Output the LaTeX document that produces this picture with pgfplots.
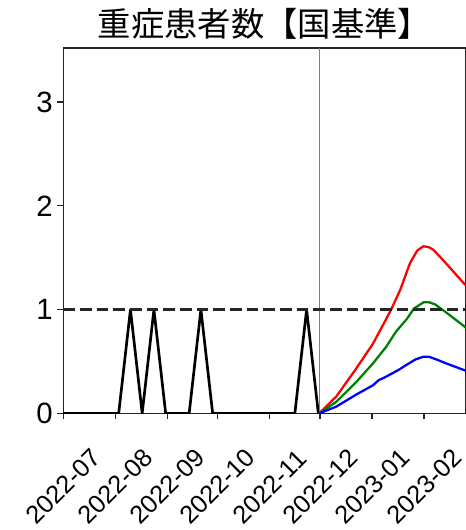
\documentclass[border=0pt]{standalone}
\usepackage{fontspec}
\setmainfont{Liberation Sans}
\newfontfamily\cjk{Noto Sans CJK JP}
\usepackage{pgfplots}
\pgfplotsset{compat=1.18}
\definecolor{mplgreen}{HTML}{008000}
\begin{document}
\begin{tikzpicture}
\begin{axis}[
  scale only axis, width=302pt, height=274pt,
  xmin=0, xmax=240, ymin=0, ymax=3.52,
  axis line style={black!85, line width=0.9pt},
  tick align=outside, xtick pos=bottom, ytick pos=left,
  major tick length=4.5pt,
  tick style={black!85, line width=0.9pt},
  xtick={0,31,62,92,123,153,184,215},
  xticklabels={2022-07,2022-08,2022-09,2022-10,2022-11,2022-12,2023-01,2023-02},
  ytick={0,1,2,3},
  yticklabel style={font=\fontsize{22}{26}\selectfont},
  /pgf/number format/assume math mode=true,
  xticklabel style={font=\fontsize{19}{23}\selectfont, anchor=center, yshift=-50.5pt, rotate=45},
  title={\cjk 重症患者数【国基準】},
  title style={font=\fontsize{25}{30}\selectfont, yshift=-3pt},
  every axis plot/.append style={line join=round},
]
\coordinate (SW) at (rel axis cs:0,0);
\coordinate (NE) at (rel axis cs:1,1);
\addplot[black, line width=2pt] coordinates {
(-2,0) (5,0) (12,0) (19,0) (26,0) (33,0) (40,1) (47,0) (54,1) (61,0) (68,0) (75,0) (82,1) (89,0) (96,0) (103,0) (110,0) (117,0) (124,0) (131,0) (138,0) (145,1) (152,0)};
\addplot[gray, line width=0.8pt] coordinates {(152.5,0) (152.5,3.6)};
\addplot[red, line width=1.7pt] coordinates {
(152.5,0) (162.6,0.16) (174.5,0.43) (184.5,0.67) (190.5,0.85) (195.4,1.0) (200.8,1.19) (206.7,1.45) (211,1.57) (214.7,1.61) (218,1.60) (220.6,1.575) (225,1.50) (230.6,1.40) (235,1.32) (240,1.23)};
\addplot[mplgreen, line width=1.7pt] coordinates {
(152.5,0) (162.6,0.11) (174.5,0.30) (184.5,0.48) (192.4,0.64) (198.4,0.79) (204.8,0.91) (209,1.01) (214.7,1.07) (218,1.07) (221.6,1.05) (229.6,0.955) (240,0.825)};
\addplot[blue, line width=1.7pt] coordinates {
(152.5,0) (162.6,0.064) (174.5,0.18) (184.5,0.27) (188,0.32) (192,0.35) (195,0.376) (200,0.42) (204.8,0.47) (210,0.52) (214.7,0.546) (218,0.545) (222.2,0.52) (230,0.47) (240,0.41)};
\addplot[black!85, line width=2.2pt, dash pattern=on 8.8pt off 3.7pt] coordinates {(0,1) (240,1)};
\end{axis}
\pgfresetboundingbox
\path[use as bounding box] ([xshift=-47.5pt,yshift=-87.5pt]SW) rectangle ([yshift=36pt]NE);
\end{tikzpicture}
\end{document}
